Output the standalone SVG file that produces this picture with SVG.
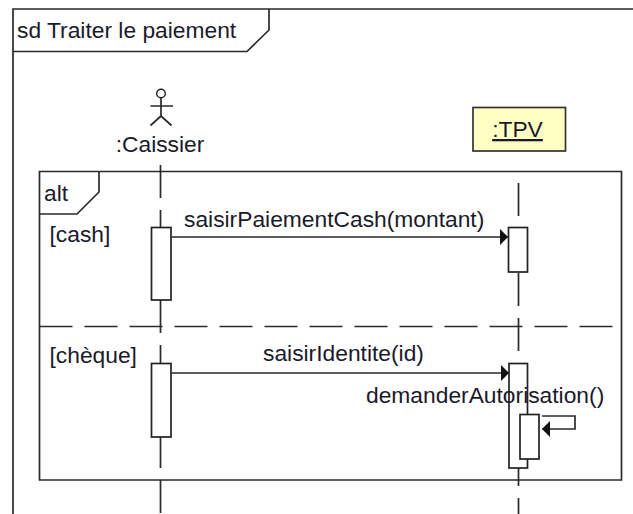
<svg xmlns="http://www.w3.org/2000/svg" width="633" height="514" viewBox="0 0 633 514">
<style>
.l{fill:none;stroke:#2a2a2a;stroke-width:1.7}
.b{fill:#fff;stroke:#222;stroke-width:1.7}
.life{fill:none;stroke:#2a2a2a;stroke-width:1.7;stroke-dasharray:33 12}
.t{font-family:"Liberation Sans",Arial,sans-serif;font-size:22.8px;fill:#1a1a2a}
.m{text-anchor:middle}
</style>
<defs>
<marker id="arrow" markerUnits="userSpaceOnUse" markerWidth="10" markerHeight="16" refX="8" refY="8" orient="auto"><path d="M0 0L8 8L0 16Z" fill="#111"/></marker>
</defs>
<rect width="633" height="514" fill="#fff"/>
<g id="frame">
<path class="l" d="M13 514V9H633"/>
<path class="l" d="M13 51.500H247L269 30V9"/>
<text class="t" x="17" y="38">sd Traiter le paiement</text>
</g>
<g id="alt">
<path class="l" d="M39.500 171.500H621.500V480H39.500Z"/>
<path class="l" d="M39.500 214H77L99 192V171.500"/>
<path class="l" d="M39.500 326.500H622" stroke-dasharray="33 12"/>
<text class="t" x="44" y="201">alt</text>
<text class="t" x="49.500" y="242">[cash]</text>
<text class="t" x="49.500" y="363">[chèque]</text>
</g>
<g id="lifelines">
<path class="life" d="M160.500 165V514"/>
<path class="life" d="M518.500 183V514"/>
</g>
<g id="caissier">
<circle cx="161" cy="93.500" r="4.300" fill="#fff" stroke="#222" stroke-width="1.400"/>
<path class="l" d="M161 98V116M150.500 106H173M150.500 125.500L161 116L171.500 125.500"/>
<text class="t m" x="160" y="152">:Caissier</text>
</g>
<g id="tpv">
<rect x="473" y="107.500" width="92.500" height="43.500" fill="#ffffc4" stroke="#333" stroke-width="1.700"/>
<text class="t m" x="517.500" y="137" text-decoration="underline">:TPV</text>
</g>
<g id="activation-caissier-1"><rect class="b" x="151.500" y="227.500" width="19.500" height="72.500"/></g>
<g id="activation-tpv-1"><rect class="b" x="508.500" y="227.500" width="19" height="44.500"/></g>
<g id="activation-caissier-2"><rect class="b" x="151.500" y="363.500" width="19.500" height="73.500"/></g>
<g id="activation-tpv-2"><rect class="b" x="509" y="363.500" width="18.500" height="104.500"/></g>
<g id="activation-tpv-3"><rect class="b" x="520" y="414.500" width="19" height="44.500"/></g>
<g id="connectors">
<path class="l" d="M171 237H508" marker-end="url(#arrow)"/>
<path class="l" d="M171 373H509" marker-end="url(#arrow)"/>
<path class="l" d="M542 416H575V429H542" marker-end="url(#arrow)"/>
</g>
<g id="labels">
<text class="t" x="184" y="227">saisirPaiementCash(montant)</text>
<text class="t" x="263" y="361">saisirIdentite(id)</text>
<text class="t" x="366" y="403">demanderAutorisation()</text>
</g>
</svg>
